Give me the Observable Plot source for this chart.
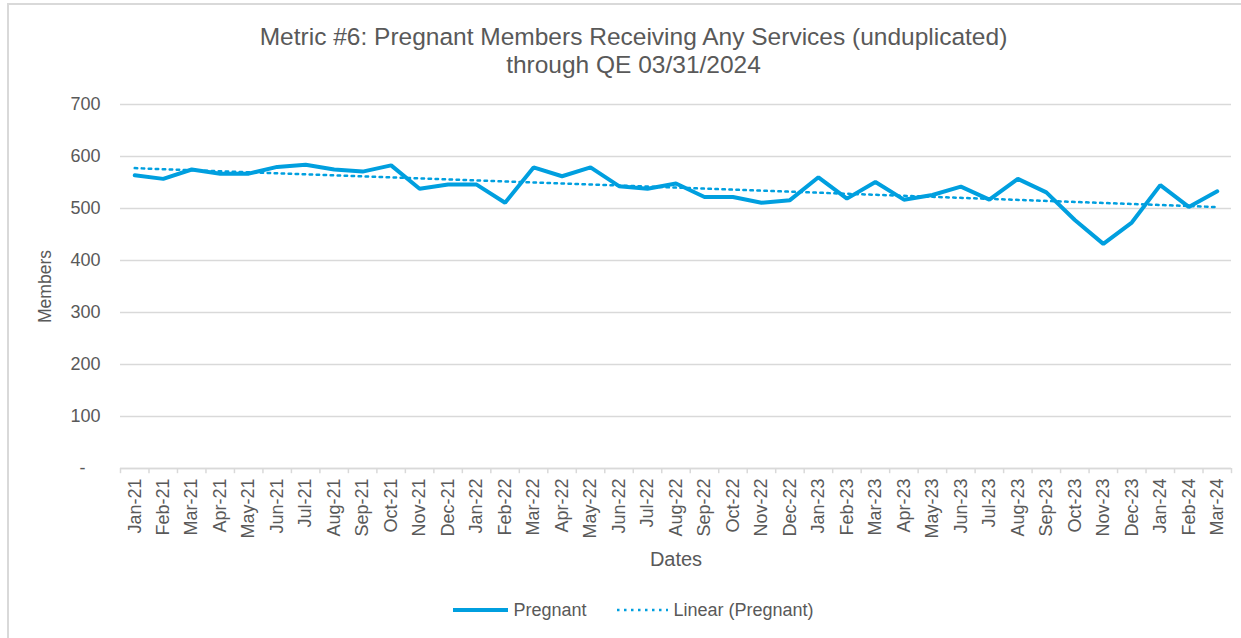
<!DOCTYPE html>
<html>
<head>
<meta charset="utf-8">
<script src="https://cdn.jsdelivr.net/npm/d3@7"></script>
<script src="https://cdn.jsdelivr.net/npm/@observablehq/plot@0.6"></script>
<style>
  html, body { margin: 0; padding: 0; background: #fff; }
  body { width: 1241px; height: 638px; overflow: hidden; position: relative; font-family: "Liberation Sans", Arial, sans-serif; color: #595959; }
  #frame { position: absolute; left: 7px; top: 3px; width: 1250px; height: 650px; border-left: 2px solid #d9d9d9; border-top: 2px solid #d9d9d9; pointer-events: none; }
  #title { height: 85px; box-sizing: border-box; padding-top: 23px; padding-left: 26px; text-align: center; font-size: 24.5px; line-height: 28px; color: #595959; }
  #chart svg { display: block; }
  #legend { display: flex; justify-content: center; align-items: center; font-size: 18px; color: #595959; height: 40px; padding-left: 26px; }
  .item { display: flex; align-items: center; }
  .swatch { margin-right: 5px; }
</style>
</head>
<body>
<div id="frame"></div>
<div id="title">Metric #6: Pregnant Members Receiving Any Services (unduplicated)<br>through QE 03/31/2024</div>
<div id="chart"></div>
<div id="legend">
  <div class="item" style="margin-right:30px"><svg class="swatch" width="55" height="6"><line x1="0" x2="55" y1="3" y2="3" stroke="#009FDF" stroke-width="4"/></svg>Pregnant</div>
  <div class="item"><svg class="swatch" width="52" height="6"><line x1="1" x2="52" y1="3" y2="3" stroke="#009FDF" stroke-width="2.5" stroke-dasharray="2.5,4.5"/></svg>Linear (Pregnant)</div>
</div>
<script>
const months = ["Jan-21","Feb-21","Mar-21","Apr-21","May-21","Jun-21","Jul-21","Aug-21","Sep-21","Oct-21","Nov-21","Dec-21",
  "Jan-22","Feb-22","Mar-22","Apr-22","May-22","Jun-22","Jul-22","Aug-22","Sep-22","Oct-22","Nov-22","Dec-22",
  "Jan-23","Feb-23","Mar-23","Apr-23","May-23","Jun-23","Jul-23","Aug-23","Sep-23","Oct-23","Nov-23","Dec-23",
  "Jan-24","Feb-24","Mar-24"];
const pregnant = [564,557,575,567,567,580,584,575,571,583,538,546,
  546,511,579,562,579,543,538,548,522,522,511,516,
  560,519,551,517,526,542,517,557,531,478,432,473,
  545,503,533];
const yTicks = [0,100,200,300,400,500,600,700];

const data = months.map((m, i) => ({i, month: m, value: pregnant[i]}));
const boundaries = d3.range(months.length + 1).map(i => i - 0.5);
const blue = "#009FDF";
const grey = "#d9d9d9";

const chart = Plot.plot({
  width: 1241,
  height: 505,
  marginTop: 19,
  marginBottom: 122,
  marginLeft: 120,
  marginRight: 10,
  style: {fontFamily: "'Liberation Sans', Arial, sans-serif", color: "#595959", background: "transparent"},
  x: {type: "linear", domain: [-0.5, months.length - 0.5]},
  y: {domain: [0, 700]},
  marks: [
    Plot.gridY(yTicks, {stroke: grey, strokeOpacity: 1, strokeWidth: 1.5}),
    Plot.ruleY([0], {stroke: grey, strokeWidth: 1.5}),
    Plot.ruleX(boundaries, {x: d => d, y1: 0, y2: -10, stroke: grey, strokeWidth: 1.5}),
    Plot.axisY(yTicks, {tickSize: 0, tickPadding: 20, fontSize: 18, tickFormat: d => d === 0 ? "-\u00a0\u00a0\u00a0" : d, label: null}),
    Plot.text(["Members"], {frameAnchor: "left", dx: -75, rotate: -90, textAnchor: "middle", lineAnchor: "middle", fontSize: 17.5, fill: "#595959"}),
    Plot.axisX(d3.range(months.length), {tickSize: 0, tickPadding: 10, fontSize: 18, tickRotate: -90, tickFormat: i => months[i], label: null}),
    Plot.text(["Dates"], {frameAnchor: "bottom", dy: 91, textAnchor: "middle", lineAnchor: "middle", fontSize: 20, fill: "#595959"}),
    Plot.line(data, {x: "i", y: "value", stroke: blue, strokeWidth: 4, strokeLinejoin: "miter"}),
    Plot.linearRegressionY(data, {x: "i", y: "value", ci: 0, stroke: blue, strokeWidth: 2.5, strokeDasharray: "2.5,4.5"})
  ]
});
document.getElementById("chart").appendChild(chart);
</script>
</body>
</html>
